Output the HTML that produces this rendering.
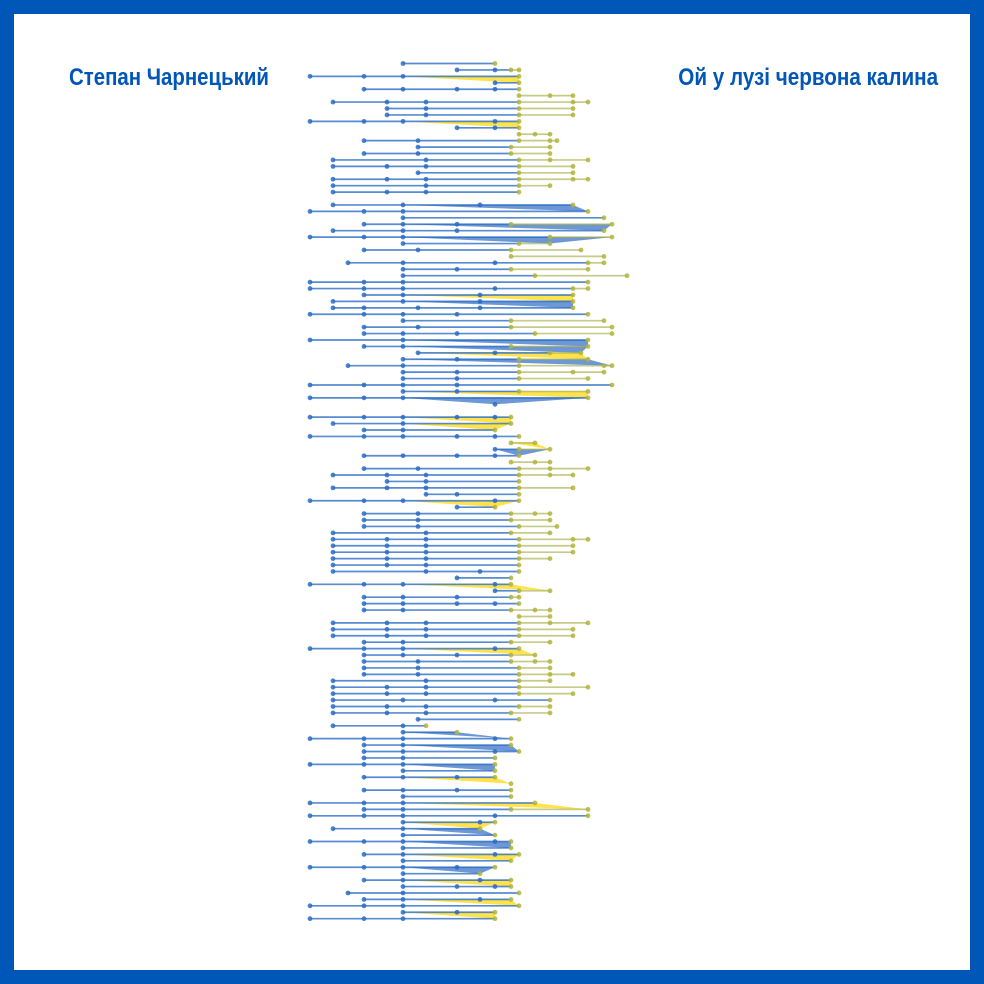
<!DOCTYPE html>
<html><head><meta charset="utf-8">
<style>
html,body{margin:0;padding:0;background:#0057b7;}
#frame{position:absolute;left:14px;top:14px;width:956px;height:956px;background:#fff;}
.title{position:absolute;top:64px;font-family:"Liberation Sans Narrow","Liberation Sans",sans-serif;font-weight:bold;font-size:24px;color:#0057b7;white-space:nowrap;}
svg{position:absolute;left:0;top:0;}
</style></head>
<body>
<div id="frame"></div>
<div class="title" style="left:69px;transform:scaleX(0.85);transform-origin:left center">Степан Чарнецький</div>
<div class="title" style="right:46px;transform:scaleX(0.86);transform-origin:right center">Ой у лузі червона калина</div>
<svg id="chart" width="984" height="984"></svg>
<script>
// lanes (row index) and note offsets (time units) for each row
const lanes = [0,1,2,3,4,5,6,7,8,9,10,11,12,13,14,15,16,17,18,19,20,22,23,24,25,26,27,28,29,30,31,32,33,34,35,36,37,38,39,40,41,42,43,44,45,46,47,48,49,50,51,52,53,55,56,57,58,59,60,61,62,63,64,65,66,67,68,69,70,71,72,73,74,75,76,77,78,79,80,81,82,83,84,85,86,87,88,89,90,91,92,93,94,95,96,97,98,99,100,101,102,103,104,105,106,107,108,109,110,111,112,113,114,115,116,117,118,119,120,121,122,123,124,125,126,127,128,129,130,131,132,133];
const notes = [
[93,185],[147,185,201,209],[0,54,93,209],[185,209],[54,93,147,185,209],[209,240,263],
[23,77,116,209,263,278],[77,116,209,263],[77,116,209,263],[0,54,93,185,209],[147,185,209],[209,225,240],
[54,108,209,240,247],[108,201,240],[54,108,201,240],[23,116,209,240,278],[23,77,116,209,263],[108,209,263],
[23,77,116,209,263,278],[23,116,209,240],[23,77,116,209],[23,93,170,263],[0,54,93,278],[93,294],
[54,93,147,201,302],[23,93,147,294],[0,54,93,240,302],[93,209,240],[54,108,201,271],[201,294],
[38,93,185,278,294],[93,147,201,278],[93,225,317],[0,54,93,278],[0,54,93,185,263,278],[54,93,170,263],
[23,93,170,263],[23,54,108,170,263],[0,54,93,147,278],[93,201,294],[54,108,201,302],[54,93,147,225,302],
[0,93,278],[54,93,201,278],[108,185,240,271],[93,147,209,278],[38,93,209,294,302],[93,147,209,263,294],
[93,147,209,278],[0,54,93,147,302],[93,147,209,278],[0,54,93,278],[185],
[0,54,93,147,185,201],[23,93,201],[54,93,185],[0,54,93,147,185,209],[201,225],[185,209,240],
[54,93,147,185,209],[201,225,240],[54,108,209,240,278],[23,77,116,209,240,263],[77,116,209],[23,77,116,209,263],
[116,147,209],[0,54,93,185,209],[147,185],[54,108,201,225,240],[54,108,201,240],[54,108,209,247],
[23,116,201,240],[23,77,116,209,263,278],[23,77,116,209,263],[23,77,116,209,263],[23,77,116,209,240],[23,77,116,209],
[23,116,170,209],[147,201],[0,54,93,185,201],[185,209,240],[54,93,147,201,209],[54,93,147,185,209],
[54,93,201,225,240],[209,240],[23,77,116,209,240,278],[23,77,116,209,263],[23,77,116,209,263],[54,93,201,240],
[0,54,93,185,209],[54,93,147,201,225],[54,108,201,225,240],[54,108,209,240],[54,108,209,240,263],[23,116,209,240],
[23,77,116,209,278],[23,77,116,209,263],[23,93,185,240],[23,77,116,209,240],[23,77,116,201,240],[108,209],
[23,93,116],[93,147],[0,54,93,185,201],[54,93,201],[54,93,185,209],[54,93,185],
[0,54,93,185],[93,185],[54,93,147,185],[201],[54,93,147,201],[93,201],
[0,54,93,225],[54,93,201,278],[0,54,93,185,278],[93,170,185],[23,93,170],[93,185],
[0,54,93,185,201],[93,201],[54,93,185,209],[93,201],[0,54,93,147,185],[93,170],
[54,93,170,201],[93,147,185,201],[38,93,209],[54,93,170,201],[0,54,93,209],[93,147,185],[0,54,93,185]
];
const fillRows = [2,9,21,24,26,35,36,42,43,44,45,50,51,53,54,57,58,66,79,89,102,104,107,109,113,116,117,119,121,123,125,128,130,131];
const fillKinds = ['y','y','b','b','b','y','b','b','b','y','b','y','b','y','y','y','b','y','y','y','b','b','b','y','y','y','b','b','y','b','y','y','y','b'];

const svg = document.getElementById('chart');
const NS = 'http://www.w3.org/2000/svg';
const xS = v => 310 + v;
const yS = l => 63.5 + l * 6.43;

fillRows.forEach((ri, k) => {
  const pts = notes[ri], nxt = notes[Math.min(ri + 1, notes.length - 1)];
  const a = pts.find(v => v >= 93) ?? pts[0];
  const p = document.createElementNS(NS, 'polygon');
  p.setAttribute('points', `${xS(a)},${yS(lanes[ri])} ${xS(pts[pts.length-1])},${yS(lanes[ri])} ${xS(nxt[nxt.length-1])},${yS(lanes[Math.min(ri+1,lanes.length-1)])}`);
  p.setAttribute('fill', fillKinds[k] === 'y' ? '#ffd500' : '#1f5fbf');
  p.setAttribute('fill-opacity', fillKinds[k] === 'y' ? '0.7' : '0.65');
  
  
  svg.appendChild(p);
});

notes.forEach((pts, ri) => {
  const y = yS(lanes[ri]);
  for (let i = 0; i < pts.length - 1; i++) {
    const ln = document.createElementNS(NS, 'line');
    ln.setAttribute('x1', xS(pts[i])); ln.setAttribute('x2', xS(pts[i+1]));
    ln.setAttribute('y1', y); ln.setAttribute('y2', y);
    const right = pts[i] >= 201;
    ln.setAttribute('stroke', right ? '#9fa83a' : '#1f66c2');
    ln.setAttribute('stroke-opacity', right ? '0.6' : '0.75');
    ln.setAttribute('stroke-width', '1.7');
    
    
    svg.appendChild(ln);
  }
});
notes.forEach((pts, ri) => {
  const y = yS(lanes[ri]);
  pts.forEach((v, i) => {
    const c = document.createElementNS(NS, 'circle');
    c.setAttribute('cx', xS(v)); c.setAttribute('cy', y); c.setAttribute('r', '2.4');
    const end = (i === pts.length - 1 && pts.length > 1) || v >= 201;
    c.setAttribute('fill', end ? '#b3b43a' : '#2a6cc4');
    c.setAttribute('fill-opacity', '0.85');
    
    
    svg.appendChild(c);
  });
});
</script>
</body></html>
